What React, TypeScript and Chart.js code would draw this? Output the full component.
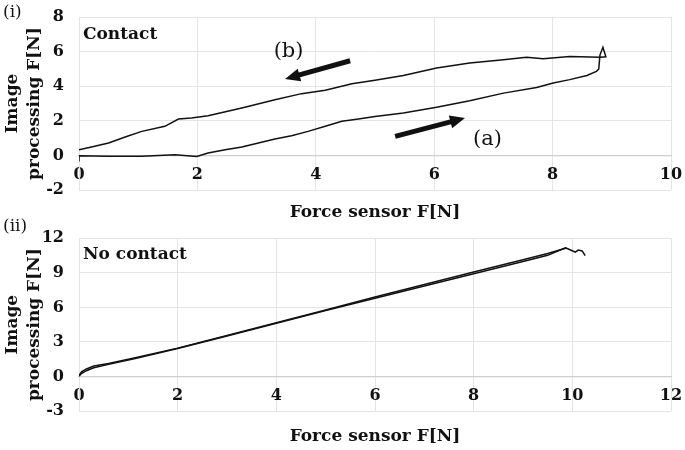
import React, { useEffect, useRef } from 'react';
import { Chart, registerables } from 'chart.js';

Chart.register(...registerables);

// ---------- Data ----------
// (i) Contact: hysteresis loop (loading branch, turn-around, unloading branch)
const contactForceSensor = [
  0, 0, 0.5, 1.06, 1.62, 1.99, 2.18, 2.47, 2.75, 3.03, 3.31, 3.59, 3.87, 4.16, 4.44, 4.72,
  5.0, 5.48, 6.04, 6.6, 7.17, 7.73, 8.01, 8.29, 8.58, 8.74, 8.78, 8.8, 8.85, 8.9, 8.8,
  8.29, 7.84, 7.56, 7.17, 6.6, 6.04, 5.48, 5.0, 4.61, 4.16, 3.76, 3.31, 2.75, 2.18, 1.9,
  1.68, 1.45, 1.06, 0.78, 0.5, 0.21, 0,
];
const contactImageForce = [
  -0.35, -0.02, -0.05, -0.05, 0.04, -0.06, 0.14, 0.33, 0.48, 0.72, 0.95, 1.14, 1.39, 1.68, 1.97, 2.1,
  2.25, 2.45, 2.78, 3.16, 3.6, 3.93, 4.18, 4.38, 4.62, 4.86, 5.0, 5.8, 6.25, 5.7, 5.68,
  5.72, 5.59, 5.67, 5.53, 5.34, 5.05, 4.62, 4.34, 4.14, 3.76, 3.57, 3.22, 2.74, 2.29, 2.16,
  2.1, 1.68, 1.39, 1.06, 0.72, 0.49, 0.33,
];

// (ii) No contact: loading and unloading
const noContactLoadSensor = [
  0, 0.05, 0.15, 0.3, 0.6, 1.14, 2.0, 3.0, 4.0, 5.0, 6.0, 7.0, 8.0, 9.0, 9.5, 9.86,
  9.93, 10.0, 10.06, 10.12, 10.2, 10.26,
];
const noContactLoadImage = [
  0.02, 0.25, 0.5, 0.75, 1.05, 1.55, 2.42, 3.52, 4.62, 5.72, 6.8, 7.85, 8.92, 9.98, 10.52, 11.18,
  11.05, 10.92, 10.8, 10.98, 10.9, 10.5,
];
const noContactUnloadSensor = [
  9.88, 9.5, 9.0, 8.0, 7.0, 6.0, 5.0, 4.0, 3.0, 2.0, 1.14, 0.6, 0.3, 0.15, 0.05, 0,
];
const noContactUnloadImage = [
  11.16, 10.68, 10.14, 9.07, 7.98, 6.9, 5.78, 4.67, 3.55, 2.46, 1.62, 1.12, 0.9, 0.65, 0.4, 0.08,
];

// Axis ranges / labels
const topXRange = [0, 10, 2];
const topYRange = [-2, 8, 2];
const bottomXRange = [0, 12, 2];
const bottomYRange = [-3, 12, 3];
const xAxisTitle = 'Force sensor F[N]';
const yAxisTitle = ['Image', 'processing F[N]'];
const topPanelLabel = '(i)';
const bottomPanelLabel = '(ii)';
const topCaption = 'Contact';
const bottomCaption = 'No contact';
const arrowLabels = ['(b)', '(a)'];
// arrows in data coordinates [tailX, tailY, tipX, tipY]
const arrowB = [4.58, 5.47, 3.48, 4.42];
const arrowA = [5.34, 1.1, 6.52, 2.16];
const labelB = [3.54, 6.02];
const labelA = [6.9, 0.91];

const SERIF = '"DejaVu Serif", "Liberation Serif", serif';
const GRID = '#e4e4e4';
const AXIS = '#cfcfcf';
const INK = '#111111';

const pairs = (xs: number[], ys: number[]) => xs.map((x, i) => ({ x, y: ys[i] }));

type Note = { text: string; x: number; y: number; font: string; data?: boolean };
type Arrow = number[];

function makeNotesPlugin(notes: Note[], arrows: Arrow[]) {
  return {
    id: 'notes',
    afterDraw(chart: any) {
      const ctx = chart.ctx as CanvasRenderingContext2D;
      const xs = chart.scales.x;
      const ys = chart.scales.y;
      ctx.save();
      ctx.fillStyle = INK;
      ctx.textBaseline = 'middle';
      ctx.textAlign = 'left';
      for (const n of notes) {
        ctx.font = n.font;
        let px = n.x;
        let py = n.y;
        if (n.data) {
          px = xs.getPixelForValue(n.x);
          py = ys.getPixelForValue(n.y);
          ctx.textAlign = 'center';
        } else {
          ctx.textAlign = 'left';
        }
        ctx.fillText(n.text, px, py);
      }
      for (const a of arrows) {
        const x0 = xs.getPixelForValue(a[0]);
        const y0 = ys.getPixelForValue(a[1]);
        const x1 = xs.getPixelForValue(a[2]);
        const y1 = ys.getPixelForValue(a[3]);
        const dx = x1 - x0;
        const dy = y1 - y0;
        const len = Math.hypot(dx, dy);
        const ux = dx / len;
        const uy = dy / len;
        const headLen = 15;
        const headW = 13;
        const bx = x1 - ux * headLen;
        const by = y1 - uy * headLen;
        ctx.strokeStyle = INK;
        ctx.lineWidth = 5;
        ctx.lineCap = 'butt';
        ctx.beginPath();
        ctx.moveTo(x0, y0);
        ctx.lineTo(bx + ux * 1, by + uy * 1);
        ctx.stroke();
        ctx.beginPath();
        ctx.moveTo(x1, y1);
        ctx.lineTo(bx - uy * headW / 2, by + ux * headW / 2);
        ctx.lineTo(bx + uy * headW / 2, by - ux * headW / 2);
        ctx.closePath();
        ctx.fill();
      }
      ctx.restore();
    },
  };
}

function buildConfig(opts: {
  datasets: any[];
  xr: number[];
  yr: number[];
  padTop: number;
  height: number;
  bottom: number;
  titlePadBottom: number;
  notes: Note[];
  arrows: Arrow[];
}) {
  const tickFont = { family: SERIF, size: 16, weight: 'bold' as const };
  const titleFont = { family: SERIF, size: 17, weight: 'bold' as const, lineHeight: 1.26 };
  return {
    type: 'scatter' as const,
    data: { datasets: opts.datasets },
    options: {
      animation: false as const,
      responsive: false,
      devicePixelRatio: 1,
      layout: { padding: { top: opts.padTop, right: 14, left: 0, bottom: 0 } },
      plugins: { legend: { display: false }, tooltip: { enabled: false } },
      scales: {
        x: {
          type: 'linear' as const,
          position: { y: 0 },
          min: opts.xr[0],
          max: opts.xr[1],
          ticks: {
            stepSize: opts.xr[2],
            font: tickFont,
            color: INK,
            padding: 10,
            autoSkip: false,
            maxRotation: 0,
          },
          grid: { color: GRID, drawTicks: false, lineWidth: 1 },
          border: { display: true, color: AXIS, width: 1.3 },
          afterFit: (s: any) => {
            s.paddingLeft = 0;
            s.paddingRight = 0;
          },
        },
        xb: {
          type: 'linear' as const,
          position: 'bottom' as const,
          min: opts.xr[0],
          max: opts.xr[1],
          ticks: { display: false },
          grid: { display: false, drawTicks: false },
          border: { display: false },
          title: {
            display: true,
            text: xAxisTitle,
            font: titleFont,
            color: INK,
            padding: { top: 0, bottom: opts.titlePadBottom },
          },
          afterFit: (s: any) => {
            s.height = opts.height - opts.bottom;
            s.paddingLeft = 0;
            s.paddingRight = 0;
          },
        },
        y: {
          type: 'linear' as const,
          position: 'left' as const,
          min: opts.yr[0],
          max: opts.yr[1],
          ticks: {
            stepSize: opts.yr[2],
            font: tickFont,
            color: INK,
            padding: 15,
            autoSkip: false,
          },
          grid: { color: GRID, drawTicks: false, lineWidth: 1 },
          border: { display: true, color: GRID },
          title: {
            display: true,
            text: yAxisTitle,
            font: titleFont,
            color: INK,
            padding: { top: 2, bottom: 0 },
          },
          afterFit: (s: any) => {
            s.width = 79;
            s.paddingTop = 0;
            s.paddingBottom = 0;
          },
        },
      },
    },
    plugins: [makeNotesPlugin(opts.notes, opts.arrows)],
  };
}

function ChartCanvas({ config, top, height }: { config: () => any; top: number; height: number }) {
  const ref = useRef<HTMLCanvasElement | null>(null);
  useEffect(() => {
    if (!ref.current) return;
    const chart = new Chart(ref.current, config());
    return () => chart.destroy();
  }, []);
  return (
    <canvas
      ref={ref}
      width={685}
      height={height}
      style={{ position: 'absolute', left: 0, top, width: 685, height, display: 'block' }}
    />
  );
}

const lineStyle = {
  showLine: true,
  borderColor: INK,
  borderWidth: 1.5,
  pointRadius: 0,
  pointHoverRadius: 0,
  tension: 0,
  fill: false,
  xAxisID: 'x',
  yAxisID: 'y',
};

const topConfig = () =>
  buildConfig({
    datasets: [{ ...lineStyle, label: topCaption, data: pairs(contactForceSensor, contactImageForce) }],
    xr: topXRange,
    yr: topYRange,
    padTop: 17,
    height: 230,
    bottom: 190,
    titlePadBottom: 7,
    notes: [
      { text: topPanelLabel, x: 3, y: 12.5, font: `17px ${SERIF}` },
      { text: topCaption, x: 83, y: 35, font: `bold 17px ${SERIF}` },
      { text: arrowLabels[0], x: labelB[0], y: labelB[1], font: `21px ${SERIF}`, data: true },
      { text: arrowLabels[1], x: labelA[0], y: labelA[1], font: `21px ${SERIF}`, data: true },
    ],
    arrows: [arrowB, arrowA],
  });

const bottomConfig = () =>
  buildConfig({
    datasets: [
      { ...lineStyle, label: 'loading', data: pairs(noContactLoadSensor, noContactLoadImage) },
      { ...lineStyle, label: 'unloading', data: pairs(noContactUnloadSensor, noContactUnloadImage) },
    ],
    xr: bottomXRange,
    yr: bottomYRange,
    padTop: 23.3,
    height: 235,
    bottom: 196,
    titlePadBottom: 3,
    notes: [
      { text: bottomPanelLabel, x: 3, y: 11.5, font: `17px ${SERIF}` },
      { text: bottomCaption, x: 83, y: 40, font: `bold 17px ${SERIF}` },
    ],
    arrows: [],
  });

export default function App() {
  return (
    <div style={{ position: 'absolute', left: 0, top: 0, width: 685, height: 450, background: '#fff' }}>
      <ChartCanvas config={topConfig} top={0} height={230} />
      <ChartCanvas config={bottomConfig} top={215} height={235} />
    </div>
  );
}
